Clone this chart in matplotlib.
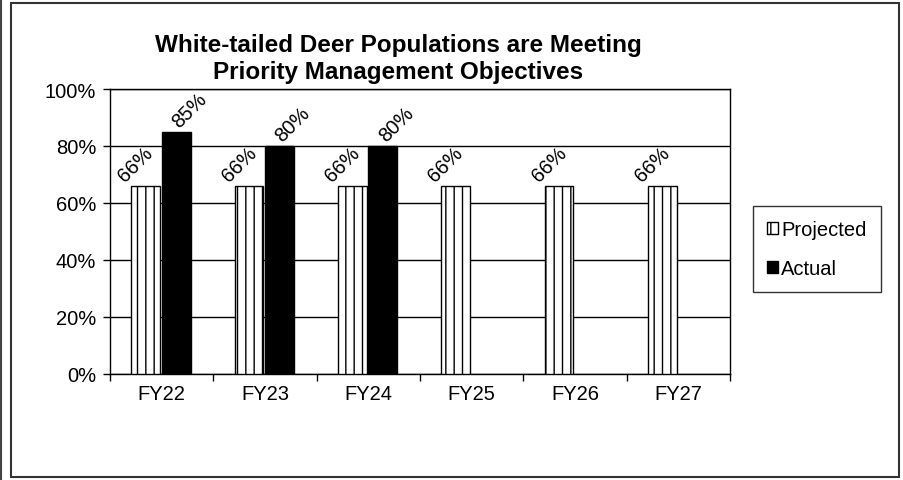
import matplotlib.pyplot as plt
import numpy as np
from matplotlib.patches import Patch

plt.rcParams['font.family'] = ['Liberation Sans', 'DejaVu Sans']
plt.rcParams['hatch.linewidth'] = 1.0

years = ["FY22", "FY23", "FY24", "FY25", "FY26", "FY27"]
projected = [66, 66, 66, 66, 66, 66]
actual = [85, 80, 80, None, None, None]

fig = plt.figure(figsize=(9.04, 4.81), dpi=100)
ax = fig.add_axes([110 / 904, 1 - 375 / 481, 620 / 904, 285 / 481])

x = np.arange(len(years))
w = 0.28

ax.bar(x - 0.155, projected, w, color="white", edgecolor="black",
       hatch="||", linewidth=1.0, zorder=3)
act_x = [xi for xi, v in zip(x, actual) if v is not None]
act_v = [v for v in actual if v is not None]
ax.bar(np.array(act_x) + 0.14, act_v, w, color="black", edgecolor="black",
       linewidth=1.0, zorder=3)

fs = 14.5
for xi, v in zip(x, projected):
    ax.text(xi - 0.25, v + 0.3, f"{v}%", rotation=45, ha="center", va="bottom",
            fontsize=fs, zorder=4)
for xi, v in zip(act_x, act_v):
    ax.text(xi + 0.27, v + 0.3, f"{v}%", rotation=45, ha="center", va="bottom",
            fontsize=fs, zorder=4)

ax.set_xlim(-0.5, len(years) - 0.5)
ax.set_ylim(0, 100)
ax.set_yticks(np.arange(0, 101, 20))
ax.set_yticklabels([f"{t}%" for t in range(0, 101, 20)], fontsize=fs)
ax.set_xticks(x)
ax.set_xticklabels(years, fontsize=fs)
ax.set_xticks(np.arange(-0.5, len(years), 1), minor=True)
ax.tick_params(axis="x", which="major", length=0, pad=7)
ax.tick_params(axis="x", which="minor", length=5, width=1, direction="out")
ax.tick_params(axis="y", length=5, width=1, direction="out", pad=5)
ax.grid(axis="y", color="black", linewidth=1.0, zorder=0)
for s in ax.spines.values():
    s.set_linewidth(1.0)
    s.set_color("black")

fig.text(398 / 904, 1 - 59 / 481,
         "White-tailed Deer Populations are Meeting\nPriority Management Objectives",
         ha="center", va="center", fontsize=17.5, fontweight="bold", linespacing=1.2)

handles = [Patch(facecolor="white", edgecolor="black", hatch="||", label="Projected"),
           Patch(facecolor="black", edgecolor="black", label="Actual")]
leg = fig.legend(handles=handles, loc="center", bbox_to_anchor=(817 / 904, 1 - 250 / 481),
                 fontsize=fs, frameon=True, fancybox=False, edgecolor="black",
                 handlelength=0.55, handleheight=0.55, handletextpad=0.15,
                 labelspacing=1.0, borderpad=0.7, borderaxespad=0)
leg.get_frame().set_linewidth(1.0)

# page borders
fig.add_artist(plt.Line2D([1.5 / 904, 1.5 / 904], [0, 1], color="#444444", lw=1.5))
fig.add_artist(plt.Rectangle((11 / 904, 3 / 481), 888 / 904, 474 / 481,
                             fill=False, edgecolor="#333333", lw=1.5))

fig.savefig("out.png", dpi=100)
